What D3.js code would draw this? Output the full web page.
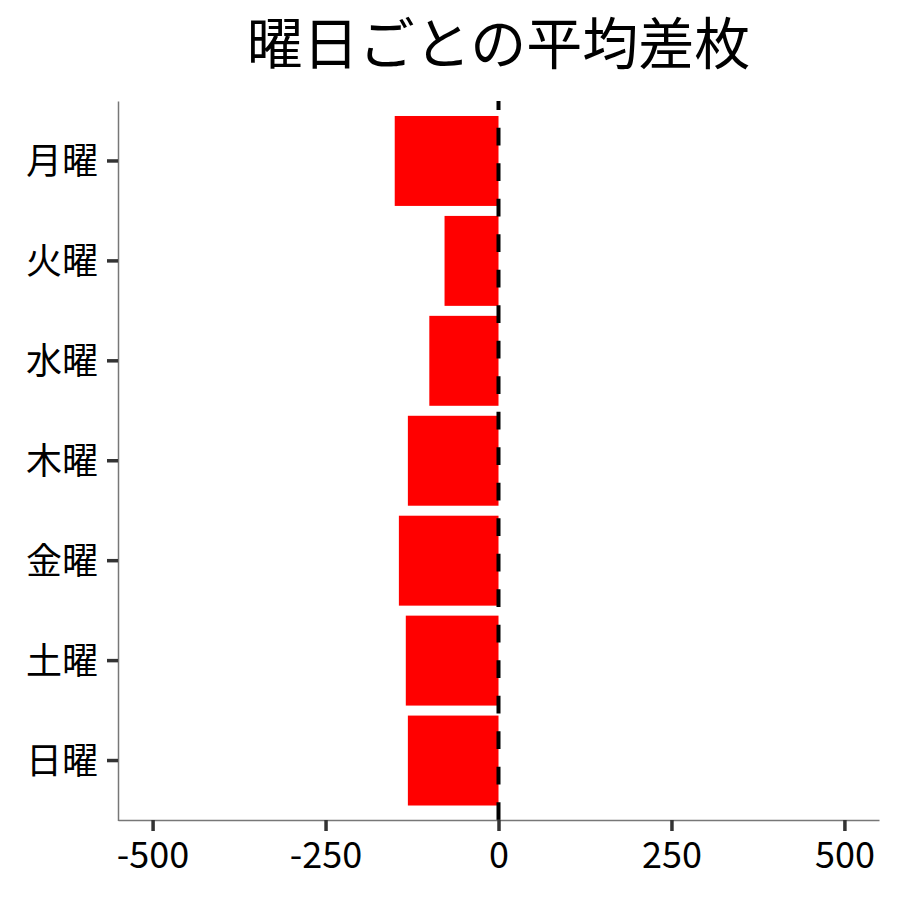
<!DOCTYPE html>
<html>
<head>
<meta charset="utf-8">
<script src="https://cdn.jsdelivr.net/npm/d3@7"></script>
<style>
  body { margin: 0; background: #fff; }
  text { font-family: "Noto Sans CJK JP", "Noto Sans", sans-serif; }
</style>
</head>
<body>
<div id="chart"></div>
<script>
// データ
const days = ['月曜', '火曜', '水曜', '木曜', '金曜', '土曜', '日曜'];
const meanDiff = [-150, -78, -100, -131, -144, -134, -131];
const xTicks = [-500, -250, 0, 250, 500];
const title = '曜日ごとの平均差枚';

const width = 900;
const height = 900;
const margin = { top: 101, right: 21, bottom: 80, left: 118 };

const svg = d3.select('#chart')
  .append('svg')
  .attr('width', width)
  .attr('height', height);

// スケール
const x = d3.scaleLinear()
  .domain([-550, 550])
  .range([margin.left, width - margin.right]);

const y = d3.scaleBand()
  .domain(days)
  .range([margin.top, height - margin.bottom + 0.5])
  .paddingInner(0.1)
  .paddingOuter(0.15);

// バー
svg.selectAll('rect.bar')
  .data(days)
  .enter()
  .append('rect')
  .attr('class', 'bar')
  .attr('x', (d, i) => x(Math.min(0, meanDiff[i])))
  .attr('y', d => y(d))
  .attr('width', (d, i) => Math.abs(x(meanDiff[i]) - x(0)))
  .attr('height', y.bandwidth())
  .attr('fill', '#ff0000');

// 0 の破線
svg.append('line')
  .attr('x1', x(0)).attr('x2', x(0))
  .attr('y1', height - margin.bottom).attr('y2', margin.top)
  .attr('stroke', '#000')
  .attr('stroke-width', 4)
  .attr('stroke-dasharray', '17.8,17.7');

// 軸
const xAxis = svg.append('g')
  .attr('transform', `translate(0, ${height - margin.bottom})`)
  .call(d3.axisBottom(x).tickValues(xTicks).tickSizeInner(11).tickSizeOuter(0)
    .tickPadding(11).tickFormat(d => String(d)));

const yAxis = svg.append('g')
  .attr('transform', `translate(${margin.left}, 0)`)
  .call(d3.axisLeft(y).tickSizeInner(11).tickSizeOuter(0).tickPadding(9));

[xAxis, yAxis].forEach(g => {
  g.select('.domain').attr('stroke', '#777').attr('stroke-width', 1.5);
  g.selectAll('.tick line').attr('stroke', '#333').attr('stroke-width', 3.5);
  g.selectAll('.tick text')
    .attr('fill', '#000')
    .style('font-size', '36px');
});
xAxis.selectAll('.tick text').attr('dy', '0.71em');
yAxis.selectAll('.tick text').attr('dy', '0.36em');

// タイトル
svg.append('text')
  .attr('x', (x.range()[0] + x.range()[1]) / 2)
  .attr('y', 64)
  .attr('text-anchor', 'middle')
  .style('font-size', '56px')
  .attr('fill', '#000')
  .text(title);
</script>
</body>
</html>
